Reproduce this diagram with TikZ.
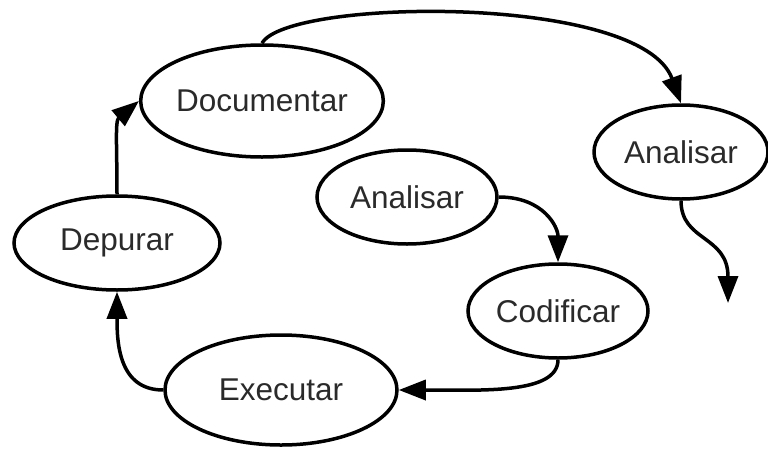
\documentclass[tikz,border=0pt]{standalone}
\usepackage{fontspec}
\setmainfont{Liberation Sans}
\usetikzlibrary{shapes.geometric,arrows.meta}
\definecolor{labelgray}{HTML}{2A2A2A}
\begin{document}
\begin{tikzpicture}[x=1pt,y=-1pt,
  phase/.style={ellipse,draw=black,line width=3.5pt,inner sep=0pt,
    text=labelgray,font=\fontsize{31.5}{36}\selectfont},
  flow/.style={line width=3.5pt,-{Triangle[length=27pt,width=20pt]}}]
  \useasboundingbox (0,0) rectangle (768,450);
  % process phases
  \node[phase,minimum width=214pt,minimum height=112pt] (doc) at (262,101) {Documentar};
  \node[phase,minimum width=174pt,minimum height=94pt] (anr) at (681,152) {Analisar};
  \node[phase,minimum width=180pt,minimum height=94pt] (anm) at (407,197) {Analisar};
  \node[phase,minimum width=206pt,minimum height=94pt] (dep) at (117,243) {Depurar};
  \node[phase,minimum width=180pt,minimum height=94pt] (cod) at (558,311) {Codificar};
  \node[phase,minimum width=232pt,minimum height=110pt] (exe) at (281,390) {Executar};
  \coordinate (wend) at (728,303);
  % cycle connectors
  \draw[flow] (dep.north) .. controls +(0,-50) and +(-24,20) .. (doc.west);
  \draw[flow] (doc.north) .. controls +(25,-45) and +(-40,-110) .. (anr.north);
  \draw[flow] (anm.east) .. controls +(45,0) and +(0,-35) .. (cod.north);
  \draw[flow] (cod.south) .. controls +(0,35) and +(80,0) .. (exe.east);
  \draw[flow] (exe.west) .. controls +(-45,0) and +(0,50) .. (dep.south);
  \draw[flow] (anr.south) .. controls +(0,41) and (728,235) .. (wend);
\end{tikzpicture}
\end{document}
